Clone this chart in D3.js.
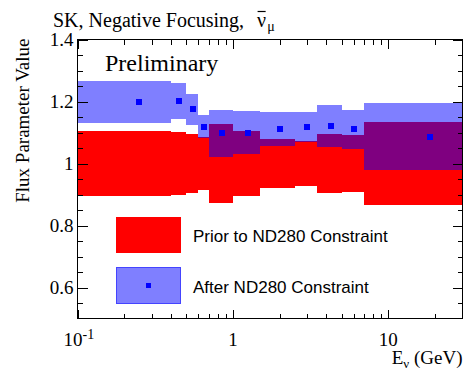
<!DOCTYPE html>
<html>
<head>
<meta charset="utf-8">
<script src="https://cdn.jsdelivr.net/npm/d3@7/dist/d3.min.js"></script>
<style>
  html, body { margin: 0; padding: 0; background: #fff; }
  svg { display: block; }
  .serif { font-family: "Liberation Serif", "Times New Roman", serif; fill: #000; white-space: pre; }
  .sans { font-family: "Liberation Sans", Arial, sans-serif; fill: #000; }
</style>
</head>
<body>
<svg id="chart" width="463" height="373"></svg>
<script>
// Neutrino energy bin edges (GeV)
const binEdges = [0.1, 0.4, 0.5, 0.6, 0.7, 1.0, 1.5, 2.5, 3.5, 5.0, 7.0, 30];
// Flux parameter before the near-detector fit: central value and 1-sigma half width
const priorValue = [1.0, 1.0, 1.0, 1.0, 1.0, 1.0, 1.0, 1.0, 1.0, 1.0, 1.0];
const priorError = [0.105, 0.101, 0.095, 0.086, 0.127, 0.106, 0.080, 0.074, 0.095, 0.093, 0.133];
// Flux parameter after the near-detector fit
const postValue = [1.198, 1.203, 1.175, 1.119, 1.097, 1.099, 1.111, 1.117, 1.120, 1.110, 1.087];
const postError = [0.067, 0.058, 0.050, 0.036, 0.077, 0.069, 0.054, 0.049, 0.068, 0.064, 0.108];
// Axis ticks
const xMajorTicks = [0.1, 1, 10];
const xMinorTicks = [0.2, 0.3, 0.4, 0.5, 0.6, 0.7, 0.8, 0.9, 2, 3, 4, 5, 6, 7, 8, 9, 20];
const yMajorTicks = [0.6, 0.8, 1.0, 1.2, 1.4];
const yMinorTicks = [0.55, 0.65, 0.7, 0.75, 0.85, 0.9, 0.95, 1.05, 1.1, 1.15, 1.25, 1.3, 1.35];
const yTickLabels = ["0.6", "0.8", "1", "1.2", "1.4"];
const legendLabels = ["Prior to ND280 Constraint", "After ND280 Constraint"];

const svg = d3.select("#chart");
const L = 77.5, R = 462.5, T = 39.5, B = 318.5;

const x = d3.scaleLog().domain([0.1, 30]).range([L, R]);
const y = d3.scaleLinear().domain([0.5, 1.4]).range([B, T]);

const bins = d3.range(priorValue.length).map(i => ({
  lo: binEdges[i], hi: binEdges[i + 1],
  prior: priorValue[i], priorErr: priorError[i],
  post: postValue[i], postErr: postError[i]
}));

const defs = svg.append("defs");
defs.append("clipPath").attr("id", "plotClip")
  .append("rect").attr("x", L).attr("y", T).attr("width", R - L).attr("height", B - T);

const plot = svg.append("g").attr("clip-path", "url(#plotClip)");

// prior band
plot.append("g").selectAll("rect").data(bins).join("rect")
  .attr("x", d => x(d.lo)).attr("width", d => x(d.hi) - x(d.lo))
  .attr("y", d => y(d.prior + d.priorErr))
  .attr("height", d => y(d.prior - d.priorErr) - y(d.prior + d.priorErr))
  .attr("fill", "#ff0000").attr("shape-rendering", "crispEdges");

// post-fit band (half-transparent blue, purple where it covers the prior)
const bandFill = "#0000ff", bandOpacity = 0.5;
plot.append("g").selectAll("rect").data(bins).join("rect")
  .attr("x", d => x(d.lo)).attr("width", d => x(d.hi) - x(d.lo))
  .attr("y", d => y(d.post + d.postErr))
  .attr("height", d => y(d.post - d.postErr) - y(d.post + d.postErr))
  .attr("fill", bandFill).attr("fill-opacity", bandOpacity)
  .attr("shape-rendering", "crispEdges");

// post-fit central values
const ms = 6;
plot.append("g").selectAll("rect").data(bins).join("rect")
  .attr("x", d => x((d.lo + d.hi) / 2) - ms / 2)
  .attr("y", d => y(d.post) - ms / 2)
  .attr("width", ms).attr("height", ms)
  .attr("fill", "#0000ff").attr("shape-rendering", "crispEdges");

// axes with ticks on all four sides
function tickAxis(axisFn, scale, values, size, pos) {
  const g = svg.append("g").attr("transform", pos)
    .call(axisFn(scale).tickValues(values).tickSize(size).tickFormat(""));
  g.select(".domain").remove();
  g.selectAll("line").attr("stroke", "#000").attr("shape-rendering", "crispEdges");
  return g;
}
tickAxis(d3.axisBottom, x, xMajorTicks, -9, `translate(0,${B})`);
tickAxis(d3.axisBottom, x, xMinorTicks, -5, `translate(0,${B})`);
tickAxis(d3.axisTop, x, xMajorTicks, -9, `translate(0,${T})`);
tickAxis(d3.axisTop, x, xMinorTicks, -5, `translate(0,${T})`);
tickAxis(d3.axisLeft, y, yMajorTicks, -10, `translate(${L},0)`);
tickAxis(d3.axisLeft, y, yMinorTicks, -5, `translate(${L},0)`);
tickAxis(d3.axisRight, y, yMajorTicks, -10, `translate(${R},0)`);
tickAxis(d3.axisRight, y, yMinorTicks, -5, `translate(${R},0)`);

svg.append("rect").attr("x", L).attr("y", T).attr("width", R - L).attr("height", B - T)
  .attr("fill", "none").attr("stroke", "#000").attr("stroke-width", 1)
  .attr("shape-rendering", "crispEdges");

// y tick labels
svg.append("g").selectAll("text").data(yMajorTicks).join("text")
  .attr("class", "serif").attr("font-size", 19)
  .attr("x", L - 4).attr("y", d => y(d) + 6.5)
  .attr("text-anchor", "end").text((d, i) => yTickLabels[i]);

// x tick labels (powers of ten)
const xl = svg.append("g").attr("class", "serif").attr("font-size", 19);
const lab0 = xl.append("text").attr("x", x(0.1) - 14).attr("y", 346);
lab0.append("tspan").text("10");
lab0.append("tspan").attr("dy", -7).attr("font-size", 14).text("-1");
xl.append("text").attr("x", x(1)).attr("y", 346).attr("text-anchor", "middle").text("1");
xl.append("text").attr("x", x(10)).attr("y", 346).attr("text-anchor", "middle").text("10");

// axis titles
const xt = svg.append("text").attr("class", "serif").attr("font-size", 19)
  .attr("x", R).attr("y", 364).attr("text-anchor", "end");
xt.append("tspan").text("E");
xt.append("tspan").attr("dy", 4).attr("font-size", 13).text("ν");
xt.append("tspan").attr("dy", -4).text(" (GeV)");

svg.append("text").attr("class", "serif").attr("font-size", 19)
  .attr("transform", `translate(29,${T - 1}) rotate(-90)`)
  .attr("text-anchor", "end").text("Flux Parameter Value");

// title: "SK, Negative Focusing," followed by anti-nu_mu
const title = svg.append("text").attr("class", "serif").attr("font-size", 20)
  .attr("x", 53).attr("y", 27).text("SK, Negative Focusing,");
const tw = title.node().getComputedTextLength();
const nuX = 53 + tw + 13;
const nu = svg.append("text").attr("class", "serif").attr("font-size", 20)
  .attr("x", nuX).attr("y", 27).text("ν");
const nw = nu.node().getComputedTextLength();
svg.append("line").attr("x1", nuX + 0.5).attr("x2", nuX + nw - 0.5)
  .attr("y1", 11.5).attr("y2", 11.5).attr("stroke", "#000").attr("stroke-width", 1.2);
svg.append("text").attr("class", "serif").attr("font-size", 14)
  .attr("x", nuX + nw + 1).attr("y", 31).text("μ");

// watermark
svg.append("text").attr("class", "serif").attr("font-size", 24)
  .attr("x", 105).attr("y", 71).text("Preliminary");

// legend
const lg = svg.append("g");
lg.append("rect").attr("x", 116).attr("y", 217).attr("width", 65).attr("height", 36)
  .attr("fill", "#ff0000").attr("shape-rendering", "crispEdges");
lg.append("rect").attr("x", 116.5).attr("y", 267.5).attr("width", 64).attr("height", 36)
  .attr("fill", bandFill).attr("fill-opacity", bandOpacity)
  .attr("stroke", "#4444ff").attr("stroke-width", 1)
  .attr("shape-rendering", "crispEdges");
lg.append("rect").attr("x", 148.5 - ms / 2 + 0.5).attr("y", 285.5 - ms / 2 + 0.5)
  .attr("width", ms - 1).attr("height", ms - 1).attr("fill", "#0000ff")
  .attr("shape-rendering", "crispEdges");
lg.selectAll("text.lab").data(legendLabels).join("text")
  .attr("class", "sans lab").attr("font-size", 17)
  .attr("x", 193).attr("y", (d, i) => 241.5 + i * 51).text(d => d);
</script>
</body>
</html>
